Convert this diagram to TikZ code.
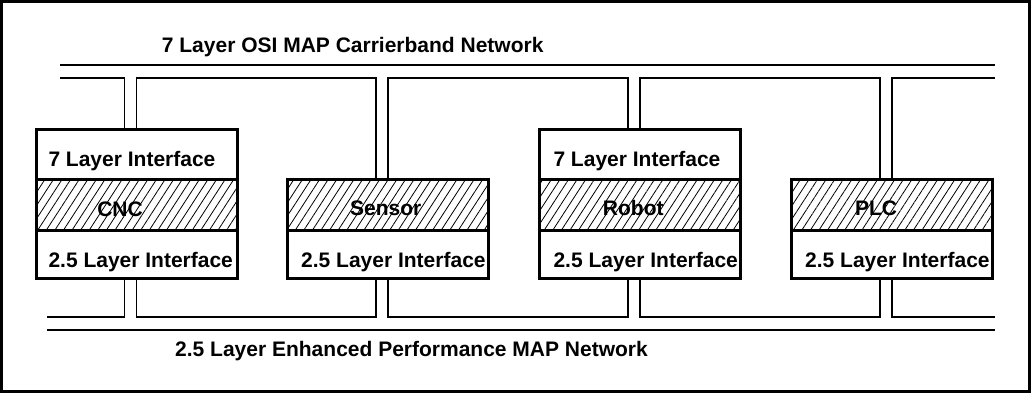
\documentclass[tikz,border=0pt]{standalone}
\usepackage{fontspec}
\setmainfont{Liberation Sans}
\usetikzlibrary{patterns.meta}
\begin{document}
\begin{tikzpicture}[x=1pt,y=-1pt,
  frame/.style={line width=3pt},
  bus/.style={line width=1.8pt},
  layerbox/.style={draw,line width=3pt,fill=white,minimum width=201pt,inner sep=0pt,outer sep=0pt,anchor=north},
  hatchbox/.style={layerbox,pattern={Lines[angle=57,distance=7.2pt,line width=0.8pt]}},
  txt/.style={font=\bfseries\fontsize{21}{25}\selectfont,inner sep=0pt},
  lbl/.style={txt,anchor=base west},
  dev/.style={txt,anchor=base},
]
\useasboundingbox (0,0) rectangle (1031,394);
\draw[frame] (1.5,1.5) rectangle (1029.5,391.8);

% levels of the two buses
\coordinate (upOut) at (0,64.7);
\coordinate (upIn)  at (0,78);
\coordinate (loIn)  at (0,316.7);
\coordinate (loOut) at (0,330);
\coordinate (upL) at (60,78);
\coordinate (upR) at (995,78);
\coordinate (loL) at (47,316.7);
\coordinate (loR) at (995,316.7);

% stations
\node[layerbox,minimum height=50pt]   (c7) at (136.5,129) {};
\node[hatchbox,minimum height=51.5pt] (cH) at (136.5,179) {};
\node[layerbox,minimum height=48pt]   (c25) at (136.5,230.5) {};

\node[hatchbox,minimum height=51pt]   (sH) at (388.3,179.5) {};
\node[layerbox,minimum height=48pt]   (s25) at (388.3,230.5) {};

\node[layerbox,minimum height=50pt]   (r7) at (640.3,129) {};
\node[hatchbox,minimum height=51.5pt] (rH) at (640.3,179) {};
\node[layerbox,minimum height=48pt]   (r25) at (640.3,230.5) {};

\node[hatchbox,minimum height=51pt]   (pH) at (892.2,179.5) {};
\node[layerbox,minimum height=48pt]   (p25) at (892.2,230.5) {};

% texts
\node[lbl] (t1) at (161.7,52.7) {7 Layer OSI MAP Carrierband Network};
\node[lbl] (t2) at (175,356.7) {2.5 Layer Enhanced Performance MAP Network};

\node[lbl] (c7t) at (48.3,166.7) {7 Layer Interface};
\node[lbl] (c25t) at (48.3,267.2) {2.5 Layer Interface};
\node[lbl] (s25t) at (301,267.3) {2.5 Layer Interface};
\node[lbl] (r7t) at (553.3,166.7) {7 Layer Interface};
\node[lbl] (r25t) at (553.3,267.5) {2.5 Layer Interface};
\node[lbl] (p25t) at (805,267.3) {2.5 Layer Interface};

\node[dev] (cN) at (120,216.5) {CNC};
\node[dev] (sN) at (385.8,215.7) {Sensor};
\node[dev] (rN) at (633.3,215.7) {Robot};
\node[dev] (pN) at (876,215.7) {PLC};

% carrierband bus (top)
\draw[bus] (upL |- upOut) -- (upR |- upOut);
\draw[bus] (upL) -- ([xshift=-12pt]c7.north |- upIn) -- ([xshift=-12pt]c7.north);
\draw[bus] (c7.north) -- (c7.north |- upIn) -- ([xshift=-12pt]sH.north |- upIn) -- ([xshift=-12pt]sH.north);
\draw[bus] (sH.north) -- (sH.north |- upIn) -- ([xshift=-12pt]r7.north |- upIn) -- ([xshift=-12pt]r7.north);
\draw[bus] (r7.north) -- (r7.north |- upIn) -- ([xshift=-12pt]pH.north |- upIn) -- ([xshift=-12pt]pH.north);
\draw[bus] (pH.north) -- (pH.north |- upIn) -- (upR);

% enhanced performance bus (bottom)
\draw[bus] (loL |- loOut) -- (loR |- loOut);
\draw[bus] (loL) -- ([xshift=-12pt]c25.south |- loIn) -- ([xshift=-12pt]c25.south);
\draw[bus] (c25.south) -- (c25.south |- loIn) -- ([xshift=-12pt]s25.south |- loIn) -- ([xshift=-12pt]s25.south);
\draw[bus] (s25.south) -- (s25.south |- loIn) -- ([xshift=-12pt]r25.south |- loIn) -- ([xshift=-12pt]r25.south);
\draw[bus] (r25.south) -- (r25.south |- loIn) -- ([xshift=-12pt]p25.south |- loIn) -- ([xshift=-12pt]p25.south);
\draw[bus] (p25.south) -- (p25.south |- loIn) -- (loR);
\end{tikzpicture}
\end{document}
